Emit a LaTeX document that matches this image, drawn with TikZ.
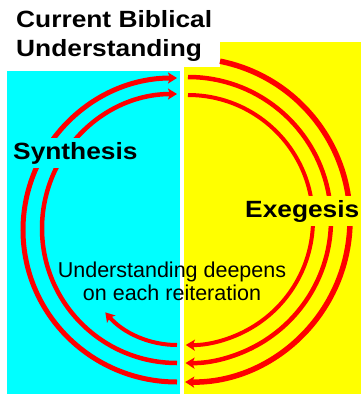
\documentclass[tikz,border=0pt]{standalone}
\usepackage{fontspec}
\setmainfont{Liberation Sans}
\newfontfamily\headfont[FakeStretch=1.12]{Liberation Sans Bold}
\usetikzlibrary{arrows.meta}
\definecolor{synthcyan}{RGB}{0,255,255}
\definecolor{exeyellow}{RGB}{255,255,0}
\definecolor{loopred}{RGB}{255,0,0}
\tikzset{
  loopline/.style={line width=4.5pt,loopred},
  looparrow/.style={loopline,-{Stealth[length=9pt,width=11pt,inset=2pt]}},
  headlabel/.style={font=\headfont\fontsize{23.5}{29}\selectfont,inner sep=0pt},
  sidelabel/.style={headlabel,inner xsep=3pt,inner ysep=4pt,anchor=base west}}

\begin{document}
\begin{tikzpicture}[x=1pt,y=-1pt]
\useasboundingbox (0,0) rectangle (361,394);
\fill[white] (0,0) rectangle (361,394);

% the two halves
\fill[synthcyan] (7,71) rectangle (180,394);
\fill[exeyellow] (184,67) -- (220,67) -- (220,42) -- (361,42)
  -- (361,394) -- (184,394) -- cycle;

% right half: exegesis, top down to the bottom
\draw[looparrow,line width=5.5pt] (188,220) ++(-78.6:162)
  arc[start angle=-78.6,end angle=91,radius=162];
\foreach \r/\w in {143/4.5,125/4}{%
  \draw[looparrow,line width=\w pt] (188,220) ++(-90:\r)
    arc[start angle=-90,end angle=91,radius=\r];
}

% left half: synthesis, bottom up to the top
\draw[looparrow,line width=5pt] (177,382)
  arc[start angle=90,end angle=270,x radius=154,y radius=152];
\draw[looparrow] (177,363)
  arc[start angle=90,end angle=270,x radius=135,y radius=134.5];
\draw[looparrow,line width=4pt] (177,345)
  arc[start angle=90,end angle=139,radius=95];

\node[headlabel,anchor=base west,align=left] (title) at (16,56)
  {Current Biblical\\Understanding};
\node[sidelabel,fill=synthcyan] (synth) at (10,159) {Synthesis};
\node[sidelabel,fill=exeyellow] (exeg) at (242,217) {Exegesis};
\node[font=\fontsize{21.5}{23}\selectfont,align=center,anchor=base,
      inner sep=0pt] (deepen) at (172,300)
  {Understanding deepens\\on each reiteration};
\end{tikzpicture}
\end{document}
